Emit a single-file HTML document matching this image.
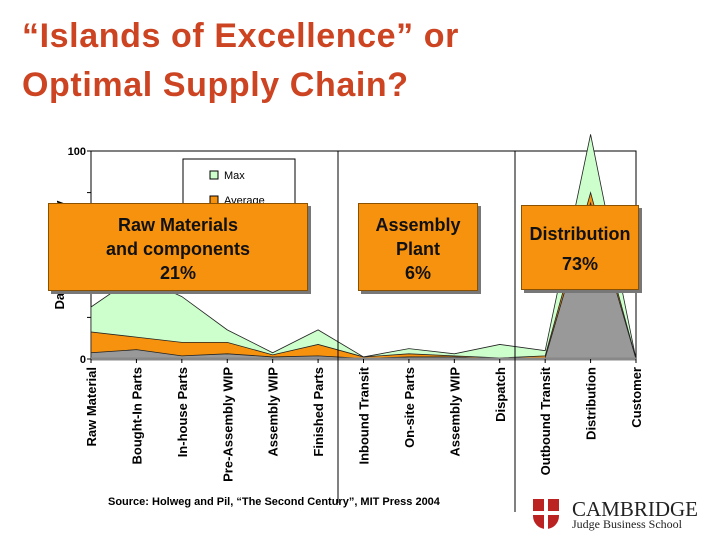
<!DOCTYPE html>
<html><head><meta charset="utf-8"><style>
body{margin:0;background:#fff;}
#wrap{position:relative;width:720px;height:540px;overflow:hidden;background:#fff;font-family:"Liberation Sans",sans-serif;}
.title{position:absolute;left:22px;top:12px;font-size:34px;letter-spacing:0.6px;font-weight:bold;color:#cc4422;line-height:49px;}
.box{position:absolute;background:#f7920f;border:1px solid #8a5200;box-shadow:3px 3px 0 #777;font-weight:bold;font-size:18px;text-align:center;color:#111;box-sizing:border-box;}
</style></head><body>
<div id="wrap">
<div class="title">“Islands of Excellence” or<br>Optimal Supply Chain?</div>
<svg id="chart" width="720" height="540" style="position:absolute;left:0;top:0"></svg>
<div class="box" style="left:48px;top:203px;width:260px;height:88px;padding-top:9px;line-height:24px">Raw Materials<br>and components<br>21%</div>
<div class="box" style="left:358px;top:203px;width:120px;height:88px;padding-top:9px;line-height:24px">Assembly<br>Plant<br>6%</div>
<div class="box" style="left:521px;top:205px;width:118px;height:85px;padding-top:13px;line-height:30px">Distribution<br>73%</div>
<div style="position:absolute;left:108px;top:496px;font-size:11px;font-weight:bold">Source: Holweg and Pil, “The Second Century”, MIT Press 2004</div>
<div style="position:absolute;left:533px;top:499px;width:26px;height:30px;background:#b22;border-radius:0 0 13px 13px"><div style="position:absolute;left:11px;top:0;width:4px;height:30px;background:#fff"></div><div style="position:absolute;left:0;top:12px;width:26px;height:4px;background:#fff"></div></div>
<div style="position:absolute;left:572px;top:497px;font-family:'Liberation Serif',serif;font-size:21px;color:#222">CAMBRIDGE</div>
<div style="position:absolute;left:572px;top:517px;font-family:'Liberation Serif',serif;font-size:12px;color:#222">Judge Business School</div>
</div>
<script>
const categories=["Raw Material","Bought-In Parts","In-house Parts","Pre-Assembly WIP","Assembly WIP","Finished Parts","Inbound Transit","On-site Parts","Assembly WIP","Dispatch","Outbound Transit","Distribution","Customer"];
const maxVals=[25,40,30,14,3,14,1,5,2.5,7,4,108,0];
const avgVals=[13,10.5,8,8,2,7,1,2.5,1.5,0.5,1.5,80,0];
const minVals=[3,4.5,1.5,2.5,1,1.5,0.3,1,1,0,0.5,75,0];
const yTicks=[0,100];
const NS="http://www.w3.org/2000/svg";
const svg=document.getElementById('chart');
const X0=91,X1=636,Y0=359,Y100=151;
const x=i=>X0+i*(X1-X0)/(categories.length-1);
const y=v=>Y0-v*(Y0-Y100)/100;
function mk(t,a){const e=document.createElementNS(NS,t);for(const k in a)e.setAttribute(k,a[k]);svg.appendChild(e);return e;}
let f=mk('rect',{x:X0,y:Y100,width:X1-X0,height:Y0-Y100,fill:'none',stroke:'#000','stroke-width':1});


let ax=mk('line',{x1:X0,y1:Y100,x2:X0,y2:Y0,stroke:'#000'});


for(let k=0;k<=5;k++){const t=mk('line',{x1:X0-4,x2:X0,y1:y(k*20),y2:y(k*20),stroke:'#000'});}
yTicks.forEach(v=>{const t=mk('text',{x:X0-5,y:y(v)+4,'text-anchor':'end','font-size':11,'font-weight':'bold'});t.textContent=v;});
const yl=mk('text',{x:64,y:255,'font-size':13,'font-weight':'bold',transform:'rotate(-90 64 255)','text-anchor':'middle'});yl.textContent='Days of inventory';


const lg=mk('rect',{x:183,y:159,width:112,height:60,fill:'#fff',stroke:'#000'});


const l1=mk('rect',{x:210,y:171,width:8,height:8,fill:'#ccffcc',stroke:'#000'});


const lt=mk('text',{x:224,y:179,'font-size':11});lt.textContent='Max';


const l2=mk('rect',{x:210,y:196,width:8,height:8,fill:'#f7920f',stroke:'#000'});


const lt2=mk('text',{x:224,y:204,'font-size':11});lt2.textContent='Average';


function area(vals,fill,name){let d='M'+x(0)+','+y(0);vals.forEach((v,i)=>d+=' L'+x(i)+','+y(v));d+=' L'+x(vals.length-1)+','+y(0)+'Z';const p=mk('path',{d:d,fill:fill,stroke:'#222','stroke-width':0.8});}
area(maxVals,'#ccffcc','area-max');
area(avgVals,'#f7920f','area-average');
area(minVals,'#999999','area-min');
const xa=mk('line',{x1:X0,x2:X1,y1:Y0,y2:Y0,stroke:'#888','stroke-width':3});


[338,515].forEach(sx=>{const l=mk('line',{x1:sx,x2:sx,y1:Y100,y2:sx<400?503:512,stroke:'#000'});});
categories.forEach((c,i)=>{const tk=mk('line',{x1:x(i),x2:x(i),y1:Y0,y2:Y0+4,stroke:'#000'});
const t=mk('text',{x:x(i)+5,y:Y0+8,'font-size':13,'font-weight':'bold','text-anchor':'end',transform:`rotate(-90 ${x(i)+5} ${Y0+8})`});t.textContent=c;});
</script>
</body></html>
